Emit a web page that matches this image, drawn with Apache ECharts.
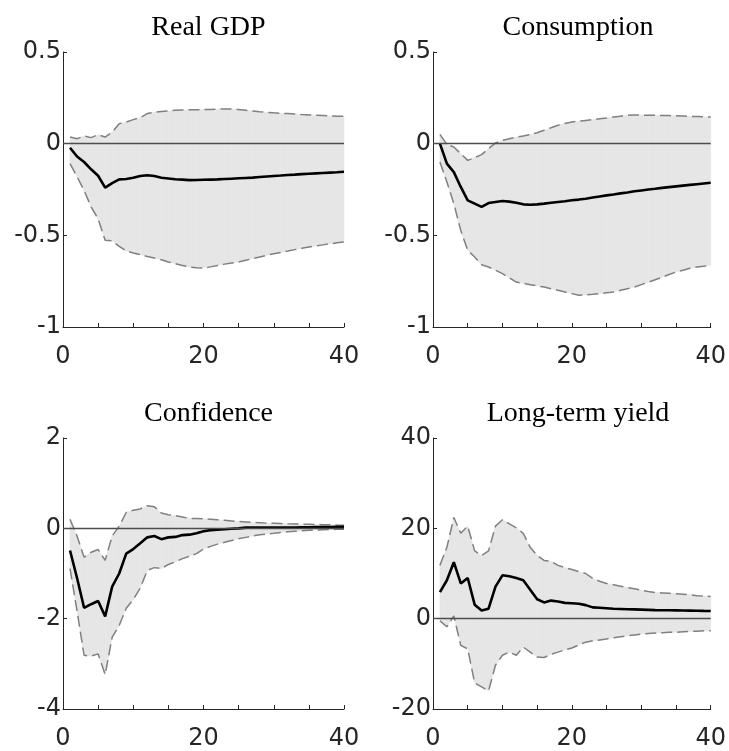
<!DOCTYPE html>
<html>
<head>
<meta charset="utf-8">
<script src="https://cdn.jsdelivr.net/npm/echarts@6/dist/echarts.min.js"></script>
<style>
html,body{margin:0;padding:0;background:#fff;}
#chart{width:729px;height:751px;}
</style>
</head>
<body>
<div id="chart"></div>
<script>
// Horizons 1..40
const horizons = Array.from({length: 40}, (_, i) => i + 1);

const titles = ['Real GDP', 'Consumption', 'Confidence', 'Long-term yield'];

// Real GDP
const gdpMedian = [-0.022,-0.07,-0.10,-0.14,-0.175,-0.24,-0.215,-0.195,-0.193,-0.186,-0.176,-0.172,-0.176,-0.186,-0.19,-0.194,-0.196,-0.199,-0.198,-0.197,-0.196,-0.195,-0.193,-0.191,-0.189,-0.187,-0.185,-0.182,-0.179,-0.176,-0.174,-0.171,-0.169,-0.166,-0.164,-0.162,-0.16,-0.158,-0.156,-0.153];
const gdpUpper = [0.036,0.027,0.042,0.033,0.049,0.036,0.064,0.109,0.118,0.131,0.142,0.164,0.171,0.176,0.178,0.182,0.184,0.185,0.185,0.186,0.187,0.188,0.189,0.189,0.186,0.182,0.178,0.174,0.171,0.168,0.166,0.164,0.162,0.159,0.157,0.155,0.153,0.151,0.150,0.149];
const gdpLower = [-0.109,-0.18,-0.255,-0.345,-0.41,-0.527,-0.53,-0.56,-0.585,-0.596,-0.605,-0.615,-0.624,-0.633,-0.645,-0.655,-0.664,-0.673,-0.677,-0.678,-0.672,-0.664,-0.657,-0.651,-0.645,-0.636,-0.627,-0.618,-0.609,-0.6,-0.593,-0.586,-0.578,-0.571,-0.564,-0.558,-0.552,-0.546,-0.541,-0.536];

// Consumption
const consMedian = [0,-0.109,-0.155,-0.236,-0.309,-0.327,-0.345,-0.324,-0.318,-0.313,-0.316,-0.322,-0.331,-0.333,-0.331,-0.327,-0.322,-0.318,-0.314,-0.309,-0.305,-0.3,-0.294,-0.288,-0.282,-0.277,-0.271,-0.266,-0.26,-0.255,-0.25,-0.246,-0.241,-0.237,-0.233,-0.229,-0.225,-0.221,-0.217,-0.213];
const consUpper = [0.051,-0.004,-0.018,-0.055,-0.091,-0.076,-0.06,-0.027,0.004,0.018,0.027,0.036,0.042,0.049,0.06,0.073,0.087,0.1,0.11,0.118,0.123,0.127,0.131,0.136,0.14,0.145,0.15,0.155,0.156,0.156,0.155,0.155,0.154,0.153,0.152,0.151,0.149,0.148,0.146,0.145];
const consLower = [-0.1,-0.209,-0.327,-0.473,-0.582,-0.618,-0.66,-0.673,-0.69,-0.709,-0.732,-0.755,-0.762,-0.769,-0.776,-0.782,-0.791,-0.8,-0.809,-0.818,-0.827,-0.825,-0.822,-0.818,-0.813,-0.809,-0.8,-0.791,-0.782,-0.769,-0.756,-0.742,-0.728,-0.714,-0.7,-0.69,-0.68,-0.673,-0.668,-0.664];

// Confidence
const confMedian = [-0.49,-1.1,-1.76,-1.68,-1.61,-1.95,-1.29,-1.0,-0.56,-0.46,-0.33,-0.2,-0.17,-0.24,-0.2,-0.19,-0.15,-0.14,-0.11,-0.065,-0.04,-0.03,-0.02,-0.01,0.0,0.015,0.018,0.02,0.02,0.02,0.02,0.02,0.02,0.022,0.024,0.026,0.028,0.03,0.033,0.036];
const confUpper = [0.2,-0.17,-0.64,-0.53,-0.47,-0.71,-0.17,0.05,0.35,0.4,0.43,0.5,0.48,0.34,0.3,0.28,0.25,0.22,0.215,0.21,0.2,0.19,0.18,0.165,0.15,0.14,0.13,0.125,0.115,0.11,0.105,0.1,0.097,0.093,0.09,0.085,0.08,0.077,0.073,0.07];
const confLower = [-0.89,-1.83,-2.81,-2.83,-2.78,-3.24,-2.41,-2.15,-1.77,-1.58,-1.32,-0.93,-0.87,-0.89,-0.8,-0.74,-0.67,-0.62,-0.56,-0.46,-0.4,-0.35,-0.31,-0.27,-0.23,-0.2,-0.17,-0.14,-0.125,-0.11,-0.09,-0.075,-0.065,-0.055,-0.045,-0.036,-0.03,-0.025,-0.022,-0.02];

// Long-term yield
const yieldMedian = [5.86,8.5,12.5,7.8,9.0,3.1,1.8,2.2,7.1,9.6,9.4,9.0,8.5,6.4,4.3,3.6,4.0,3.8,3.5,3.4,3.3,3.0,2.5,2.4,2.3,2.2,2.15,2.1,2.05,2.0,1.95,1.9,1.88,1.85,1.83,1.8,1.78,1.75,1.72,1.7];
const yieldUpper = [11.8,15.8,22.4,18.9,20.5,15.0,14.0,15.0,20.5,21.9,21.0,20.1,18.9,15.8,14.0,12.9,12.7,11.8,11.3,10.9,10.4,10.0,8.9,8.3,7.8,7.5,7.2,6.9,6.6,6.3,6.0,5.8,5.7,5.6,5.5,5.4,5.3,5.1,5.0,4.9];
const yieldLower = [-0.5,-1.8,0.6,-5.9,-6.7,-14.2,-15.1,-16.0,-10.3,-8.1,-7.4,-8.1,-6.3,-7.4,-8.5,-8.6,-7.9,-7.4,-6.9,-6.5,-5.8,-5.2,-4.9,-4.7,-4.5,-4.2,-4.0,-3.8,-3.6,-3.4,-3.3,-3.2,-3.1,-3.0,-3.0,-2.9,-2.8,-2.8,-2.7,-2.7];

// Axis settings (tick values)
const xTicks = {min: 0, max: 40, step: 5, labelEvery: 20};
const yAxes = [
  {min: -1, max: 0.5, step: 0.5},
  {min: -1, max: 0.5, step: 0.5},
  {min: -4, max: 2, step: 2},
  {min: -20, max: 40, step: 20}
];

const panels = [
  {median: gdpMedian, upper: gdpUpper, lower: gdpLower},
  {median: consMedian, upper: consUpper, lower: consLower},
  {median: confMedian, upper: confUpper, lower: confLower},
  {median: yieldMedian, upper: yieldUpper, lower: yieldLower}
];

const gridPos = [
  {left: 63, top: 52, width: 281, height: 275},
  {left: 433, top: 52, width: 280, height: 275},
  {left: 63, top: 438, width: 281, height: 277},
  {left: 433, top: 438, width: 280, height: 277}
];

const axisColor = '#262626';
const tickFont = {fontFamily: 'DejaVu Sans', fontSize: 24, color: axisColor};
const bandColor = '#e6e6e6';

const option = {
  animation: false,
  backgroundColor: '#ffffff',
  title: [],
  grid: [],
  xAxis: [],
  yAxis: [],
  series: []
};

// Band drawn as quads between consecutive horizons, using axis coordinates
function bandRender(params, api) {
  const p0 = api.coord([api.value(0), api.value(1)]);
  const p1 = api.coord([api.value(3), api.value(4)]);
  const p2 = api.coord([api.value(3), api.value(5)]);
  const p3 = api.coord([api.value(0), api.value(2)]);
  return {
    type: 'polygon',
    shape: {points: [p0, p1, p2, p3]},
    style: {fill: bandColor, stroke: bandColor, lineWidth: 0.6}
  };
}

panels.forEach((p, i) => {
  const g = gridPos[i];
  option.grid.push({left: g.left, top: g.top, width: g.width, height: g.height, containLabel: false});
  option.title.push({
    text: titles[i],
    left: g.left + g.width / 2,
    top: g.top - 43,
    textAlign: 'center',
    textStyle: {fontFamily: 'Liberation Serif', fontSize: 28, fontWeight: 'normal', color: '#000'}
  });
  option.xAxis.push({
    type: 'value', gridIndex: i, min: xTicks.min, max: xTicks.max, interval: xTicks.step,
    axisLine: {show: true, onZero: false, lineStyle: {color: axisColor, width: 1}},
    axisTick: {show: true, inside: true, length: 4, lineStyle: {color: axisColor}},
    splitLine: {show: false},
    axisLabel: Object.assign({
      margin: 18,
      formatter: v => (v % xTicks.labelEvery === 0 ? String(v) : '')
    }, tickFont)
  });
  const ya = yAxes[i];
  option.yAxis.push({
    type: 'value', gridIndex: i, min: ya.min, max: ya.max, interval: ya.step,
    axisLine: {show: true, onZero: false, lineStyle: {color: axisColor, width: 1}},
    axisTick: {show: true, inside: true, length: 4, lineStyle: {color: axisColor}},
    splitLine: {show: false},
    axisLabel: Object.assign({margin: 2}, tickFont)
  });
  const segs = [];
  for (let k = 0; k < horizons.length - 1; k++) {
    segs.push([horizons[k], p.lower[k], p.upper[k], horizons[k + 1], p.lower[k + 1], p.upper[k + 1]]);
  }
  option.series.push({
    type: 'custom', xAxisIndex: i, yAxisIndex: i, data: segs,
    renderItem: bandRender, silent: true, z: 1,
    encode: {x: [0, 3], y: [1, 2, 4, 5]}
  });
  const dashStyle = {color: '#808080', width: 1.5, type: [11, 5]};
  option.series.push({
    type: 'line', xAxisIndex: i, yAxisIndex: i,
    data: horizons.map((h, k) => [h, p.upper[k]]),
    symbol: 'none', silent: true, lineStyle: dashStyle, z: 2
  });
  option.series.push({
    type: 'line', xAxisIndex: i, yAxisIndex: i,
    data: horizons.map((h, k) => [h, p.lower[k]]),
    symbol: 'none', silent: true, lineStyle: dashStyle, z: 2,
    markLine: {
      silent: true, symbol: ['none', 'none'], label: {show: false},
      lineStyle: {color: '#4d4d4d', type: 'solid', width: 1.3},
      data: [{yAxis: 0}]
    }
  });
  option.series.push({
    type: 'line', xAxisIndex: i, yAxisIndex: i,
    data: horizons.map((h, k) => [h, p.median[k]]),
    symbol: 'none', silent: true, lineStyle: {color: '#000', width: 2.6}, z: 3
  });
});

const chart = echarts.init(document.getElementById('chart'), null, {renderer: 'canvas'});
chart.setOption(option);
</script>
</body>
</html>
